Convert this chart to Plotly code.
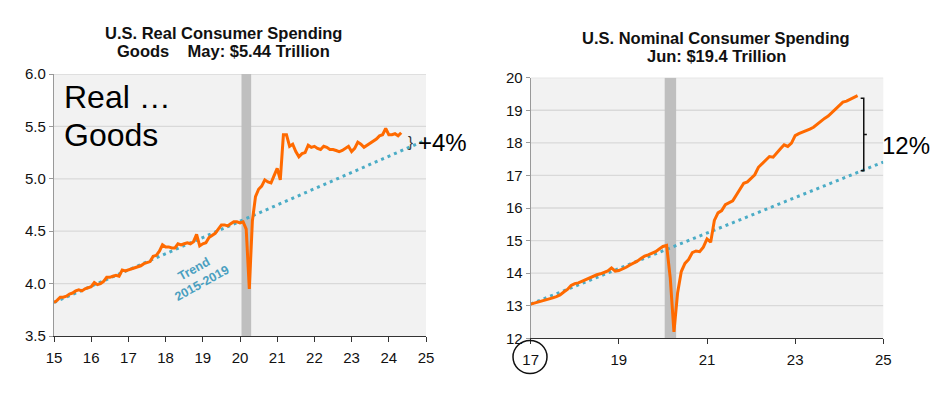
import plotly.graph_objects as go

# page body has an 8px margin, so the figure is drawn 8px in and kept inside the window
OFF = 8
W, H = 940 - OFF, 395 - OFF

# ---------------- data ----------------
real_start = 15.0  # Jan 2015
real_goods = [
    3.82, 3.84, 3.87, 3.87, 3.88, 3.90, 3.91, 3.93, 3.94, 3.93, 3.95, 3.96,   # 2015
    3.97, 4.01, 3.99, 4.00, 4.02, 4.06, 4.06, 4.07, 4.08, 4.07, 4.13, 4.12,   # 2016
    4.13, 4.14, 4.15, 4.16, 4.17, 4.19, 4.20, 4.21, 4.26, 4.27, 4.31, 4.37,   # 2017
    4.35, 4.35, 4.34, 4.34, 4.38, 4.37, 4.38, 4.39, 4.38, 4.40, 4.47, 4.36,   # 2018
    4.38, 4.39, 4.44, 4.46, 4.48, 4.52, 4.56, 4.56, 4.55, 4.57, 4.59, 4.59,   # 2019
    4.58, 4.59, 4.52, 3.95, 4.60, 4.83, 4.90, 4.93, 4.99, 4.97, 4.96, 5.03,   # 2020
    5.10, 4.99, 5.42, 5.42, 5.31, 5.33, 5.26, 5.21, 5.24, 5.25, 5.32, 5.30,   # 2021
    5.31, 5.29, 5.28, 5.31, 5.30, 5.28, 5.28, 5.27, 5.26, 5.27, 5.29, 5.31,   # 2022
    5.26, 5.29, 5.35, 5.33, 5.30, 5.32, 5.34, 5.36, 5.38, 5.41, 5.42, 5.48,   # 2023
    5.42, 5.42, 5.43, 5.41, 5.44,                                             # 2024
]
real_trend_x = [15, 25]
real_trend_y = [3.82, 5.37]

nom_start = 17.0  # Jan 2017
nominal = [
    13.05, 13.08, 13.10, 13.15, 13.18, 13.19, 13.24, 13.28, 13.33, 13.42, 13.50, 13.62,  # 2017
    13.68, 13.70, 13.75, 13.80, 13.86, 13.90, 13.95, 13.98, 14.02, 14.07, 14.16, 14.06,  # 2018
    14.08, 14.12, 14.18, 14.25, 14.30, 14.37, 14.45, 14.52, 14.56, 14.60, 14.66, 14.74,  # 2019
    14.82, 14.85, 13.85, 12.20, 13.40, 14.05, 14.30, 14.42, 14.63, 14.68, 14.66, 14.80,  # 2020
    15.05, 14.95, 15.62, 15.85, 15.92, 16.10, 16.15, 16.22, 16.40, 16.60, 16.76, 16.80,  # 2021
    16.92, 17.02, 17.25, 17.35, 17.45, 17.58, 17.56, 17.70, 17.82, 17.94, 17.89, 17.99,  # 2022
    18.22, 18.28, 18.32, 18.38, 18.42, 18.48, 18.58, 18.66, 18.75, 18.82, 18.92, 19.02,  # 2023
    19.12, 19.25, 19.28, 19.34, 19.38, 19.45,                                            # 2024
]
nom_trend_x = [17, 25]
nom_trend_y = [13.05, 17.41]

recession = [20.04, 20.30]

left_xticks = list(range(15, 26))
left_yticks = [3.5, 4.0, 4.5, 5.0, 5.5, 6.0]
left_ytext = ["3.5", "4.0", "4.5", "5.0", "5.5", "6.0"]
right_xticks = [17, 19, 21, 23, 25]
right_yticks = list(range(12, 21))

ORANGE = "#FF6A00"
TEAL = "#4BACC6"
FONT = "Liberation Sans, Arial, sans-serif"

real_x = [real_start + i / 12 for i in range(len(real_goods))]
nom_x = [nom_start + i / 12 for i in range(len(nominal))]


def px(x):
    return (x - OFF) / W


def py(y):
    return 1 - (y - OFF) / H


fig = go.Figure()
fig.add_trace(go.Scatter(x=real_trend_x, y=real_trend_y, mode="lines",
                         line=dict(color=TEAL, width=3, dash="3px,4px"),
                         xaxis="x", yaxis="y", hoverinfo="skip"))
fig.add_trace(go.Scatter(x=real_x, y=real_goods, mode="lines",
                         line=dict(color=ORANGE, width=3),
                         xaxis="x", yaxis="y"))
fig.add_trace(go.Scatter(x=nom_trend_x, y=nom_trend_y, mode="lines",
                         line=dict(color=TEAL, width=3, dash="3px,4px"),
                         xaxis="x2", yaxis="y2", hoverinfo="skip"))
fig.add_trace(go.Scatter(x=nom_x, y=nominal, mode="lines",
                         line=dict(color=ORANGE, width=3),
                         xaxis="x2", yaxis="y2"))

tickfont = dict(family=FONT, size=15, color="#111")
xcommon = dict(showgrid=False, zeroline=False, ticks="outside", ticklen=5, automargin=False,
               tickfont=tickfont, fixedrange=True, showline=True, linecolor="#333",
               linewidth=1.3, tickcolor="#333", ticklabelstandoff=3)
ycommon = dict(showgrid=False, zeroline=False, ticks="outside", ticklen=4, automargin=False,
               tickfont=tickfont, fixedrange=True, showline=True, linecolor="#999",
               linewidth=1.2, tickcolor="#999")

fig.update_layout(
    width=W, height=H,
    margin=dict(l=0, r=0, t=0, b=0, autoexpand=False),
    paper_bgcolor="white",
    plot_bgcolor="#F2F2F2",
    showlegend=False,
    xaxis=dict(domain=[px(54), px(426)], range=[15, 25], tickvals=left_xticks,
               anchor="y", **xcommon),
    yaxis=dict(domain=[py(336), py(74)], range=[3.5, 6.0], tickvals=left_yticks,
               ticktext=left_ytext, anchor="x", **ycommon),
    xaxis2=dict(domain=[px(530.7), px(883.3)], range=[17, 25], tickvals=right_xticks,
                anchor="y2", **xcommon),
    yaxis2=dict(domain=[py(338.3), py(77.7)], range=[12, 20], tickvals=right_yticks,
                anchor="x2", **ycommon),
)

shapes = []
# horizontal gridlines
for v in left_yticks[1:]:
    shapes.append(dict(type="line", xref="x", yref="y", x0=15, x1=25, y0=v, y1=v,
                       line=dict(color="#D9D9D9", width=1.3), layer="below"))
for v in right_yticks[1:]:
    shapes.append(dict(type="line", xref="x2", yref="y2", x0=17, x1=25, y0=v, y1=v,
                       line=dict(color="#D9D9D9", width=1.3), layer="below"))
# recession bars
shapes.append(dict(type="rect", xref="x", yref="y", x0=recession[0], x1=recession[1],
                   y0=3.5, y1=6.0, fillcolor="#BFBFBF", line=dict(width=0), layer="below"))
shapes.append(dict(type="rect", xref="x2", yref="y2", x0=recession[0], x1=recession[1],
                   y0=12, y1=20, fillcolor="#BFBFBF", line=dict(width=0), layer="below"))

# right bracket between last nominal value and trend
last_x = nom_x[-1]
top_v = nominal[-1] - 0.08
trend_last = nom_trend_y[0] + (nom_trend_y[1] - nom_trend_y[0]) * (last_x - nom_trend_x[0]) / (nom_trend_x[1] - nom_trend_x[0])
bot_v = trend_last + 0.05
bx = last_x + 0.14
hook = 0.07
mid_v = (top_v + bot_v) / 2
shapes.append(dict(type="path", xref="x2", yref="y2",
                   path=f"M {bx-hook},{top_v} L {bx},{top_v} L {bx},{bot_v} L {bx-hook},{bot_v} "
                        f"M {bx},{mid_v} L {bx+hook},{mid_v}",
                   line=dict(color="#111", width=1.5)))
# circle around the "17" tick label
shapes.append(dict(type="circle", xref="paper", yref="paper",
                   x0=px(530 - 17), x1=px(530 + 17), y0=py(357 + 16.5), y1=py(357 - 16.5),
                   line=dict(color="#111", width=1.5)))

fig.update_layout(shapes=shapes)

ann = []
title_font = dict(family=FONT, size=16.5, color="#111")
ann.append(dict(xref="paper", yref="paper", x=px(223), y=py(33), text="<b>U.S. Real Consumer Spending</b>",
                showarrow=False, font=title_font, xanchor="center", yanchor="middle"))
ann.append(dict(xref="paper", yref="paper", x=px(223), y=py(51),
                text="<b>Goods\u00a0\u00a0\u00a0\u00a0May: $5.44 Trillion</b>",
                showarrow=False, font=title_font, xanchor="center", yanchor="middle"))
ann.append(dict(xref="paper", yref="paper", x=px(716), y=py(38), text="<b>U.S. Nominal Consumer Spending</b>",
                showarrow=False, font=title_font, xanchor="center", yanchor="middle"))
ann.append(dict(xref="paper", yref="paper", x=px(716), y=py(56), text="<b>Jun: $19.4 Trillion</b>",
                showarrow=False, font=title_font, xanchor="center", yanchor="middle"))
big = dict(family=FONT, size=32, color="#000")
ann.append(dict(xref="paper", yref="paper", x=px(62), y=py(97), text="Real \u2026",
                showarrow=False, font=big, xanchor="left", yanchor="middle"))
ann.append(dict(xref="paper", yref="paper", x=px(62), y=py(135), text="Goods",
                showarrow=False, font=big, xanchor="left", yanchor="middle"))
ann.append(dict(xref="paper", yref="paper", x=px(416), y=py(143), text="+4%",
                showarrow=False, font=dict(family=FONT, size=24, color="#000"),
                xanchor="left", yanchor="middle"))
ann.append(dict(xref="paper", yref="paper", x=px(410), y=py(141), text="}",
                showarrow=False, font=dict(family=FONT, size=15, color="#333"),
                xanchor="center", yanchor="middle"))
ann.append(dict(xref="paper", yref="paper", x=px(880), y=py(145), text="12%",
                showarrow=False, font=dict(family=FONT, size=24, color="#000"),
                xanchor="left", yanchor="middle"))
ann.append(dict(xref="paper", yref="paper", x=px(198), y=py(276), text="<b>Trend<br>2015-2019</b>",
                showarrow=False, textangle=-29, xanchor="center", yanchor="middle",
                font=dict(family=FONT, size=12.5, color="#4A9FC0")))
fig.update_layout(annotations=ann)

fig.write_html("out.html")
